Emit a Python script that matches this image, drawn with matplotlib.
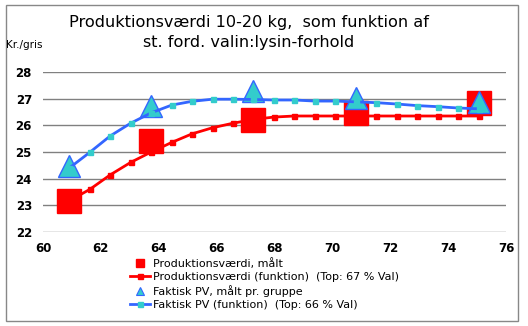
import matplotlib
matplotlib.use('Agg')
import matplotlib.pyplot as plt
from matplotlib.lines import Line2D
from matplotlib.patches import Rectangle

# valin:lysin ratio (x) and production value per pig (kr.)
x_func = [60.91, 61.62, 62.32, 63.03, 63.74, 64.45, 65.15, 65.86, 66.57, 67.27,
          67.98, 68.69, 69.39, 70.10, 70.81, 71.52, 72.22, 72.93, 73.64, 74.34, 75.05]
pv_func = [23.17, 23.60, 24.14, 24.61, 25.00, 25.36, 25.68, 25.91, 26.08, 26.22,
           26.31, 26.35, 26.35, 26.35, 26.35, 26.35, 26.35, 26.35, 26.35, 26.35, 26.35]
fpv_func = [24.40, 24.99, 25.60, 26.08, 26.47, 26.76, 26.90, 26.98, 26.98, 26.97,
            26.95, 26.95, 26.91, 26.91, 26.88, 26.85, 26.80, 26.74, 26.70, 26.65, 26.62]

x_meas = [60.91, 63.74, 67.27, 70.81, 75.05]
pv_meas = [23.17, 25.42, 26.20, 26.47, 26.83]
fpv_meas = [24.47, 26.73, 27.28, 27.03, 26.87]

x_ticks = [60, 62, 64, 66, 68, 70, 72, 74, 76]
y_ticks = [22, 23, 24, 25, 26, 27, 28]

labels = ['Produktionsværdi, målt',
          'Produktionsværdi (funktion)  (Top: 67 % Val)',
          'Faktisk PV, målt pr. gruppe',
          'Faktisk PV (funktion)  (Top: 66 % Val)']

RED = '#ff0000'
BLUE = '#3366ff'
CYAN = '#33cccc'

W, H = 528, 326
fig = plt.figure(figsize=(W / 100, H / 100), dpi=100)
ax = fig.add_axes([43 / W, 1 - 232 / H, 463 / W, 160 / H])

ax.plot(x_meas, pv_meas, ls='none', marker='s', ms=17, mfc=RED, mec=RED, zorder=3)
ax.plot(x_func, pv_func, color=RED, lw=2, marker='s', ms=3.6, mfc=RED, mec=RED, zorder=4)
ax.plot(x_meas, fpv_meas, ls='none', marker='^', ms=16.5, mfc=CYAN, mec=BLUE, mew=1, zorder=5)
ax.plot(x_func, fpv_func, color=BLUE, lw=2, marker='s', ms=3.6, mfc=CYAN, mec=CYAN, zorder=6)

ax.set_xlim(60, 76)
ax.set_ylim(22, 28)
ax.set_xticks(x_ticks)
ax.set_yticks(y_ticks)
ax.tick_params(length=0, labelsize=8.5)
ax.tick_params(axis='x', pad=7)
ax.tick_params(axis='y', pad=8)
for lab in ax.get_xticklabels() + ax.get_yticklabels():
    lab.set_fontweight('bold')
for s in ax.spines.values():
    s.set_visible(False)
ax.grid(axis='y', color='#808080', lw=1)
ax.set_axisbelow(True)

fig.text(249 / W, 1 - 22 / H, 'Produktionsværdi 10-20 kg,  som funktion af',
         ha='center', va='center', fontsize=11.6)
fig.text(249 / W, 1 - 42 / H, 'st. ford. valin:lysin-forhold',
         ha='center', va='center', fontsize=11.6)
fig.text(6 / W, 1 - 45 / H, 'Kr./gris', ha='left', va='center', fontsize=7.5)

handles = [
    Line2D([], [], ls='none', marker='s', ms=6, mfc=RED, mec=RED),
    Line2D([], [], color=RED, lw=2, marker='s', ms=3.6, mfc=RED, mec=RED),
    Line2D([], [], ls='none', marker='^', ms=6, mfc=CYAN, mec=BLUE, mew=0.8),
    Line2D([], [], color=BLUE, lw=2, marker='s', ms=3.6, mfc=CYAN, mec=CYAN),
]
fig.legend(handles, labels, loc='upper left',
           bbox_to_anchor=(130 / W, 1 - 258 / H), frameon=False,
           fontsize=8.0, handlelength=1.8, handletextpad=0.25,
           labelspacing=0.28, borderpad=0, borderaxespad=0)

fig.patches.append(Rectangle((6 / W, 5 / H), 512 / W, 316 / H,
                             transform=fig.transFigure, fill=False,
                             edgecolor='#888888', lw=1))

fig.savefig('out.png', dpi=100)
